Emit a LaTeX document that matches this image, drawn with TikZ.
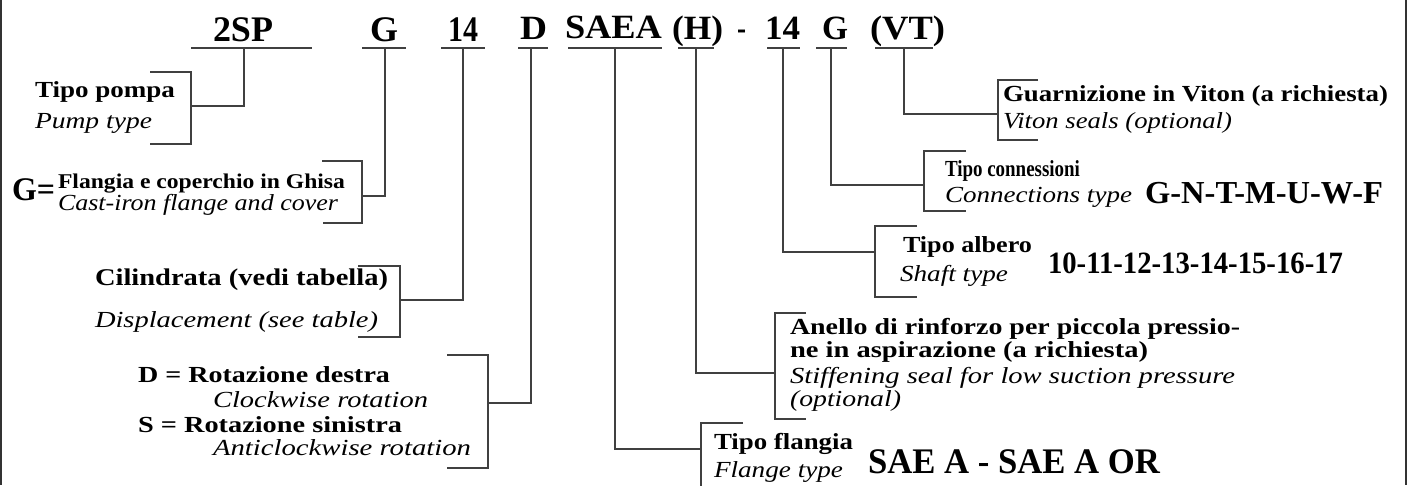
\documentclass[tikz,border=0pt]{standalone}
\usepackage{graphicx}
\usepackage{fontspec}
\setmainfont{Liberation Serif}
\newcommand\fw[2]{\resizebox{#1pt}{\height}{#2}}
\definecolor{ln}{HTML}{404040}
\begin{document}
\begin{tikzpicture}[x=1pt,y=-1pt,
  lb/.style={anchor=base west,inner sep=0pt,outer sep=0pt},
  bl/.style={lb,font=\bfseries\fontsize{23}{25}\selectfont},
  il/.style={lb,font=\itshape\fontsize{23}{25}\selectfont},
  code/.style={lb,font=\bfseries\fontsize{#1}{#1}\selectfont},
  code/.default=34,
  conn/.style={draw=ln,line width=1.3pt},
  frame/.style={draw=black!80,line width=2.4pt}]
\useasboundingbox (0,0) rectangle (1410,485);
% side frame
\coordinate (fl1) at (1.2,0); \coordinate (fl2) at (1.2,485);
\coordinate (fr1) at (1406,0); \coordinate (fr2) at (1406,485);
\draw[frame] (fl1) -- (fl2);
\draw[frame] (fr1) -- (fr2);
% code row
\node[code=36] (c1) at (213,41) {\fw{60}{2SP}};
\node[code=36] (c2) at (370,41) {\fw{28}{G}};
\node[code=36] (c3) at (448,41) {\fw{30}{14}};
\node[code] (c4) at (520,39) {\fw{27}{D}};
\node[code] (c5) at (565,38) {\fw{97}{SAEA}};
\node[code] (c6) at (672,39) {\fw{51}{(H)}};
\node[code] (c7) at (737,39) {\fw{9}{-}};
\node[code] (c8) at (765,39) {\fw{35}{14}};
\node[code] (c9) at (822,39) {\fw{26}{G}};
\node[code] (c10) at (870,39) {\fw{75}{(VT)}};
% underlines
\draw[conn] (191,48) -- (312,48);
\draw[conn] (362,48) -- (406,48);
\draw[conn] (441,48) -- (485,48);
\draw[conn] (518,48) -- (548,48);
\draw[conn] (568,48) -- (662,48);
\draw[conn] (678,48) -- (714,48);
\draw[conn] (767,48) -- (800,48);
\draw[conn] (816,48) -- (847,48);
\draw[conn] (875,48) -- (933,48);
% underline taps
\coordinate (u1) at (244,48);
\coordinate (u2) at (385,48);
\coordinate (u3) at (463,48);
\coordinate (u4) at (531,48);
\coordinate (u5) at (615,48);
\coordinate (u6) at (696,48);
\coordinate (u7) at (783,48);
\coordinate (u8) at (831,48);
\coordinate (u9) at (904,48);
% bracket taps
\coordinate (b1) at (191,106);
\coordinate (b2) at (362,196);
\coordinate (b3) at (400,300);
\coordinate (b4) at (488,403);
\coordinate (b5) at (701,449);
\coordinate (b6) at (775,373);
\coordinate (b7) at (875,252);
\coordinate (b8) at (924,185);
\coordinate (b9) at (998,114);
% brackets
\draw[conn] (150,72) -- (191,72) -- (191,144) -- (150,144);
\draw[conn] (322,161) -- (362,161) -- (362,223) -- (323,223);
\draw[conn] (358,266) -- (400,266) -- (400,337) -- (358,337);
\draw[conn] (447,355) -- (488,355) -- (488,468) -- (447,468);
\draw[conn] (743,423) -- (701,423) -- (701,486);
\draw[conn] (806,313) -- (775,313) -- (775,419) -- (806,419);
\draw[conn] (917,226) -- (875,226) -- (875,297) -- (917,297);
\draw[conn] (966,151) -- (924,151) -- (924,211) -- (966,211);
\draw[conn] (1038,80) -- (998,80) -- (998,140) -- (1038,140);
% connectors
\draw[conn] (u1) |- (b1);
\draw[conn] (u2) |- (b2);
\draw[conn] (u3) |- (b3);
\draw[conn] (u4) |- (b4);
\draw[conn] (u5) |- (b5);
\draw[conn] (u6) |- (b6);
\draw[conn] (u7) |- (b7);
\draw[conn] (u8) |- (b8);
\draw[conn] (u9) |- (b9);
% labels
\node[bl] (t1) at (35,97) {\fw{140}{Tipo pompa}};
\node[il] (e1) at (35,128) {\fw{117}{Pump type}};
\node[code=33] (g0) at (12,200) {\fw{43}{G=}};
\node[lb,font=\bfseries\fontsize{21}{23}\selectfont] (t2) at (58,188) {\fw{287}{Flangia e coperchio in Ghisa}};
\node[lb,font=\itshape\fontsize{23}{25}\selectfont] (e2) at (58,210) {\fw{280}{Cast-iron flange and cover}};
\node[lb,font=\bfseries\fontsize{24}{26}\selectfont] (t3) at (95,285) {\fw{293}{Cilindrata (vedi tabella)}};
\node[il] (e3) at (95,327) {\fw{283}{Displacement (see table)}};
\node[bl] (t4a) at (138,382) {\fw{252}{D = Rotazione destra}};
\node[il] (e4a) at (213,407) {\fw{215}{Clockwise rotation}};
\node[bl] (t4b) at (138,432) {\fw{264}{S = Rotazione sinistra}};
\node[il] (e4b) at (213,455) {\fw{258}{Anticlockwise rotation}};
\node[bl] (t5) at (714,449) {\fw{139}{Tipo flangia}};
\node[il] (e5) at (714,477) {\fw{129}{Flange type}};
\node[code=36] (v5) at (868,473) {\fw{292}{SAE A - SAE A OR}};
\node[bl] (t6a) at (790,334) {\fw{450}{Anello di rinforzo per piccola pressio-}};
\node[bl] (t6b) at (790,357) {\fw{358}{ne in aspirazione (a richiesta)}};
\node[il] (e6a) at (790,383) {\fw{445}{Stiffening seal for low suction pressure}};
\node[il] (e6b) at (790,406) {\fw{111}{(optional)}};
\node[bl] (t7) at (903,252) {\fw{129}{Tipo albero}};
\node[il] (e7) at (900,281) {\fw{108}{Shaft type}};
\node[code=31] (v7) at (1048,273) {\fw{295}{10-11-12-13-14-15-16-17}};
\node[bl] (t8) at (945,176) {\fw{135}{Tipo connessioni}};
\node[il] (e8) at (945,202) {\fw{187}{Connections type}};
\node[code=32] (v8) at (1145,203) {\fw{238}{G-N-T-M-U-W-F}};
\node[bl] (t9) at (1003,101) {\fw{385}{Guarnizione in Viton (a richiesta)}};
\node[il] (e9) at (1003,128) {\fw{229}{Viton seals (optional)}};
\end{tikzpicture}
\end{document}
